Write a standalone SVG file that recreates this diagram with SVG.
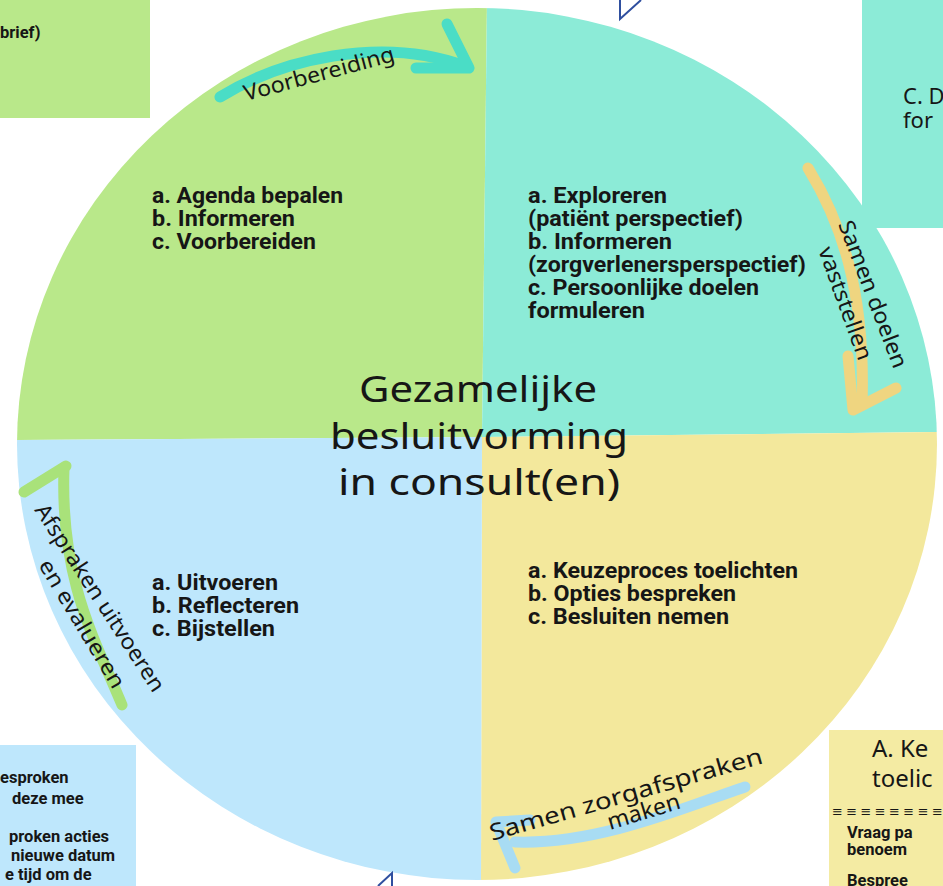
<svg xmlns="http://www.w3.org/2000/svg" width="943" height="886" viewBox="0 0 943 886">
<defs>
<clipPath id="circ"><ellipse cx="477" cy="444" rx="460" ry="436"/></clipPath>
<style>
.q{font-family:Roboto,"Liberation Sans",sans-serif;font-weight:700;font-size:21.5px;fill:#161616}
.b{font-family:Roboto,"Liberation Sans",sans-serif;font-weight:700;font-size:16.5px;fill:#161616}
.hw{font-family:"Noto Sans","DejaVu Sans",sans-serif;font-weight:400;fill:#161616}
.arr{fill:none;stroke-width:11;stroke-linecap:round;stroke-linejoin:round}
.ln{fill:none;stroke:#2F4F9F;stroke-width:2}
</style>
</defs>
<rect width="943" height="886" fill="#ffffff"/>
<g id="cycle" clip-path="url(#circ)">
<polygon points="0,0 487,0 482,437 0,440" fill="#B9E88A"/>
<polygon points="487,0 943,0 943,432 482,437" fill="#8CEBD7"/>
<polygon points="482,437 943,432 943,886 481,886" fill="#F3E89C"/>
<polygon points="0,440 482,437 481,886 0,886" fill="#BEE7FC"/>
</g>
<g id="box-topleft">
<rect x="0" y="0" width="150" height="118" fill="#B9E88A"/>
<text class="b" font-size="17" x="0" y="38">brief)</text>
</g>
<g id="box-topright">
<rect x="862" y="0" width="81" height="228" fill="#8CEBD7"/>
<text class="hw" font-size="22" x="903" y="104">C. D</text>
<text class="hw" font-size="22" x="903" y="128">for</text>
</g>
<g id="box-bottomleft">
<rect x="0" y="745" width="136" height="141" fill="#BEE7FC"/>
<text class="b" x="0" y="783">esproken</text>
<text class="b" x="12" y="804">deze mee</text>
<text class="b" x="9" y="842">proken acties</text>
<text class="b" x="11" y="861">nieuwe datum</text>
<text class="b" x="5" y="880">e tijd om de</text>
</g>
<g id="box-bottomright">
<rect x="829" y="730" width="114" height="156" fill="#F4EBA3"/>
<text class="hw" font-size="24" x="872" y="757">A. Ke</text>
<text class="hw" font-size="24" x="872" y="787">toelic</text>
<text class="hw" font-size="13" x="832" y="816">≡ ≡ ≡ ≡ ≡ ≡ ≡ ≡</text>
<text class="b" font-size="14.5" x="847" y="838">Vraag pa</text>
<text class="b" font-size="14.5" x="847" y="855">benoem</text>
<text class="b" font-size="14.5" x="847" y="886">Bespree</text>
</g>
<g id="markers">
<polyline class="ln" points="620,0 620,19 641,0"/>
<polyline class="ln" points="378,886 392,873 392,886"/>
</g>
<g id="connectors">
<path class="arr" stroke="#4ADDC6" d="M220,97 C280,60 380,35 465,66"/>
<path class="arr" stroke="#4ADDC6" d="M447,24 L469,68 L416,68"/>
<path class="arr" stroke="#EFD580" d="M808,168 C840,220 866,290 862,405"/>
<path class="arr" stroke="#EFD580" d="M848,356 L853,410 L896,388"/>
<path class="arr" stroke="#A9E27A" d="M122,705 C95,640 60,580 64,468"/>
<path class="arr" stroke="#A9E27A" d="M24,492 L66,466"/>
<path class="arr" stroke="#A8DCF3" d="M745,787 C690,805 600,845 515,842"/>
<path class="arr" stroke="#A8DCF3" d="M530,820 L496,822 L515,868"/>
</g>
<g id="labels">
<text class="hw" font-size="22" transform="translate(246,101) rotate(-15)" textLength="155" lengthAdjust="spacingAndGlyphs">Voorbereiding</text>
<text class="hw" font-size="22" transform="translate(838,224) rotate(69)" textLength="156" lengthAdjust="spacingAndGlyphs">Samen doelen</text>
<text class="hw" font-size="22" transform="translate(818,250) rotate(70)" textLength="119" lengthAdjust="spacingAndGlyphs">vaststellen</text>
<text class="hw" font-size="22" transform="translate(34,510) rotate(57)" textLength="219" lengthAdjust="spacingAndGlyphs">Afspraken uitvoeren</text>
<text class="hw" font-size="22" transform="translate(38,565) rotate(59)" textLength="146" lengthAdjust="spacingAndGlyphs">en evalueren</text>
<text class="hw" font-size="23" transform="translate(492,841) rotate(-16)" textLength="283" lengthAdjust="spacingAndGlyphs">Samen zorgafspraken</text>
<text class="hw" font-size="23" transform="translate(610,830) rotate(-17)" textLength="75" lengthAdjust="spacingAndGlyphs">maken</text>
</g>
<g id="node-voorbereiding">
<text class="q" x="152" y="203" textLength="191" lengthAdjust="spacingAndGlyphs">a. Agenda bepalen</text>
<text class="q" x="152" y="226" textLength="143" lengthAdjust="spacingAndGlyphs">b. Informeren</text>
<text class="q" x="152" y="249" textLength="164" lengthAdjust="spacingAndGlyphs">c. Voorbereiden</text>
</g>
<g id="node-doelen">
<text class="q" x="528" y="203" textLength="139" lengthAdjust="spacingAndGlyphs">a. Exploreren</text>
<text class="q" x="528" y="226" textLength="215" lengthAdjust="spacingAndGlyphs">(patiënt perspectief)</text>
<text class="q" x="528" y="249" textLength="144" lengthAdjust="spacingAndGlyphs">b. Informeren</text>
<text class="q" x="528" y="272" textLength="278" lengthAdjust="spacingAndGlyphs">(zorgverlenersperspectief)</text>
<text class="q" x="528" y="295" textLength="231" lengthAdjust="spacingAndGlyphs">c. Persoonlijke doelen</text>
<text class="q" x="528" y="318" textLength="117" lengthAdjust="spacingAndGlyphs">formuleren</text>
</g>
<g id="node-afspraken">
<text class="q" x="528" y="578" textLength="270" lengthAdjust="spacingAndGlyphs">a. Keuzeproces toelichten</text>
<text class="q" x="528" y="601" textLength="208" lengthAdjust="spacingAndGlyphs">b. Opties bespreken</text>
<text class="q" x="528" y="624" textLength="201" lengthAdjust="spacingAndGlyphs">c. Besluiten nemen</text>
</g>
<g id="node-uitvoeren">
<text class="q" x="152" y="590" textLength="126" lengthAdjust="spacingAndGlyphs">a. Uitvoeren</text>
<text class="q" x="152" y="613" textLength="147" lengthAdjust="spacingAndGlyphs">b. Reflecteren</text>
<text class="q" x="152" y="636" textLength="123" lengthAdjust="spacingAndGlyphs">c. Bijstellen</text>
</g>
<g id="center">
<text class="hw" font-size="36" x="359" y="402" textLength="238" lengthAdjust="spacingAndGlyphs">Gezamelijke</text>
<text class="hw" font-size="36" x="330" y="449" textLength="298" lengthAdjust="spacingAndGlyphs">besluitvorming</text>
<text class="hw" font-size="36" x="338" y="495" textLength="282" lengthAdjust="spacingAndGlyphs">in consult(en)</text>
</g>
</svg>
